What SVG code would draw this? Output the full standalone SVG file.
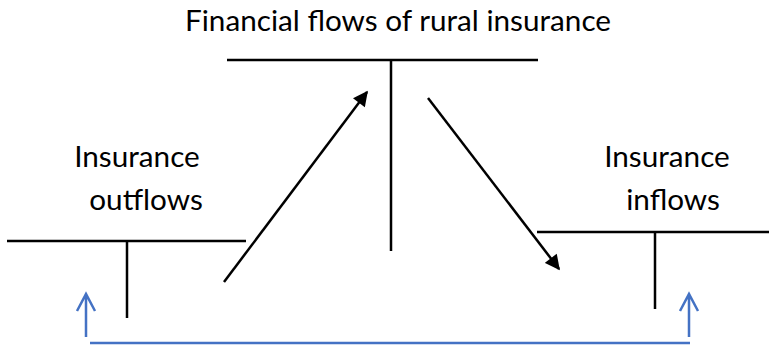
<svg xmlns="http://www.w3.org/2000/svg" width="770" height="348" viewBox="0 0 770 348">
<defs>
<style>
.t{font-family:Lato,"Open Sans","Liberation Sans",sans-serif;font-size:29.7px;fill:#000}
.k{stroke:#000;stroke-width:2.5;fill:none}
.b{stroke:#4472C4;stroke-width:2.5;fill:none}
</style>
<marker id="ah" viewBox="0 0 10 10" refX="9" refY="5" markerWidth="6.5" markerHeight="6" orient="auto" markerUnits="strokeWidth">
<path d="M0,0 L10,5 L0,10 z" fill="#000"/>
</marker>
</defs>
<rect width="770" height="348" fill="#fff"/>
<g id="title-node">
<text class="t" x="398" y="31" text-anchor="middle">Financial flows of rural insurance</text>
<path class="k" d="M227,60 H538 M391,60 V251"/>
</g>
<g id="outflows-node">
<text class="t" x="137" y="167" text-anchor="middle">Insurance</text>
<text class="t" x="146" y="210" text-anchor="middle">outflows</text>
<path class="k" d="M7,241 H246 M127,241 V318"/>
</g>
<g id="inflows-node">
<text class="t" x="667" y="167" text-anchor="middle">Insurance</text>
<text class="t" x="673" y="210" text-anchor="middle">inflows</text>
<path class="k" d="M537,232 H769 M655,232 V309"/>
</g>
<g id="connectors">
<line class="k" x1="224" y1="282" x2="367" y2="92" marker-end="url(#ah)"/>
<line class="k" x1="428" y1="98" x2="559" y2="269" marker-end="url(#ah)"/>
<path class="b" d="M90,343 H690"/>
<path class="b" d="M86,337 V294 M77,311 L86,294 L95,311"/>
<path class="b" d="M689,337 V294 M680,311 L689,294 L698,311"/>
</g>
</svg>
